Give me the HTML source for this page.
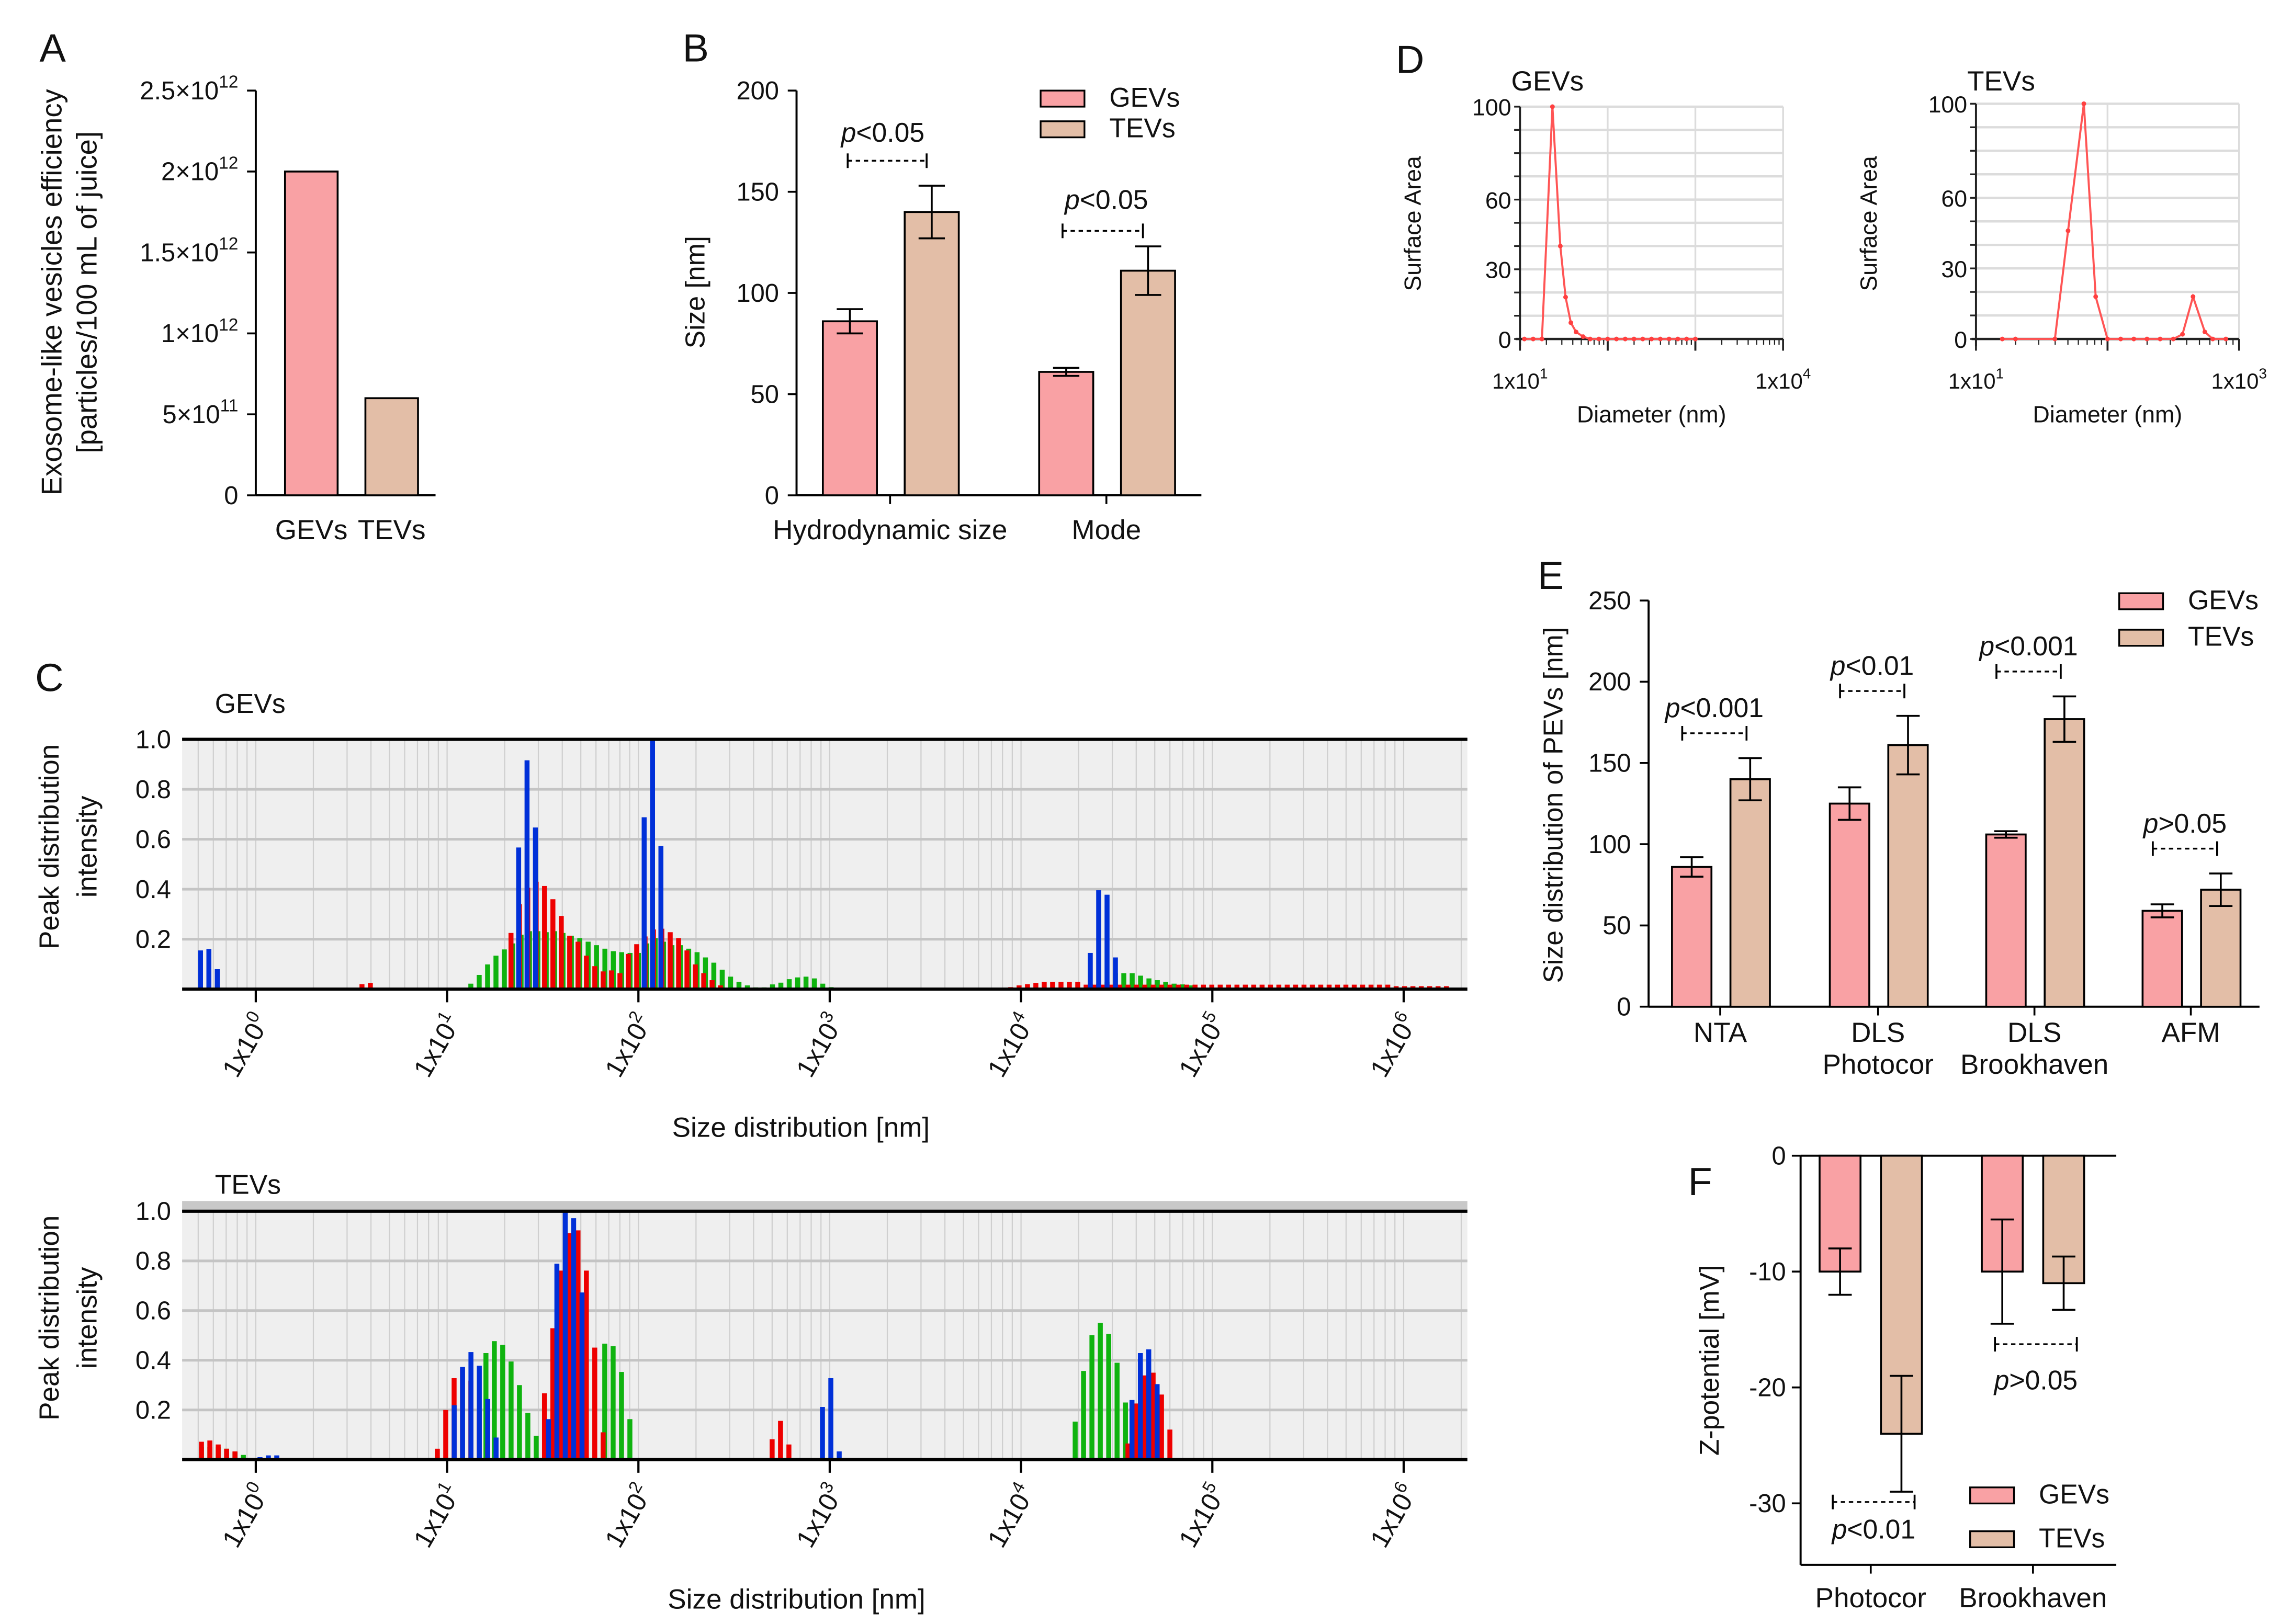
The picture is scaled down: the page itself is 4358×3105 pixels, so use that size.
<!DOCTYPE html>
<html><head><meta charset="utf-8"><style>
html,body{margin:0;padding:0;background:#fff}
svg{display:block}
text{font-family:"Liberation Sans",sans-serif;fill:#111}
</style></head><body>
<svg id="fig" xmlns="http://www.w3.org/2000/svg" width="4358" height="3105" viewBox="0 0 1560 1111.5"></svg>
<script>
// ---------- DATA ----------
const aCategories=["GEVs","TEVs"];
const aValues=[2e12,6e11];
const aTicks=[0,5e11,1e12,1.5e12,2e12,2.5e12];
const aTickLabels=["0","5×10","1×10","1.5×10","2×10","2.5×10"];
const aTickExp=["","11","12","12","12","12"];

const bGroups=["Hydrodynamic size","Mode"];
const bGev=[86,61];const bGevErr=[6,2];
const bTev=[140,111];const bTevErr=[13,12];
const bTicks=[0,50,100,150,200];

const eGroups=[["NTA"],["DLS","Photocor"],["DLS","Brookhaven"],["AFM"]];
const eGev=[86,125,106,59];const eGevErr=[6,10,2,4];
const eTev=[140,161,177,72];const eTevErr=[13,18,14,10];
const eTicks=[0,50,100,150,200,250];
const eP=["<0.001","<0.01","<0.001",">0.05"];

const fGroups=["Photocor","Brookhaven"];
const fGev=[-10,-10];const fGevErr=[2,4.5];
const fTev=[-24,-11];const fTevErr=[5,2.3];
const fTicks=[0,-10,-20,-30];

const dGevLog=[1.05,1.15,1.25,1.37,1.46,1.52,1.58,1.64,1.72,1.8,1.9,2.0,2.1,2.2,2.3,2.4,2.5,2.6,2.7,2.8,2.9,3.0];
const dGevVal=[0,0,0,100,40,18,7,3,1,0,0,0,0,0,0,0,0,0,0,0,0,0];
const dTevLog=[1.2,1.3,1.6,1.7,1.82,1.91,2.0,2.1,2.2,2.3,2.4,2.5,2.57,2.65,2.74,2.8,2.9];
const dTevVal=[0,0,0,46,100,18,0,0,0,0,0,0,2,18,3,0,0];
const dTicks=[0,30,60,100];

const cStep=0.0438;
const cGevGreen=[
 {start:-0.289,values:[0.03,0.03,0.02,0.005]},
 {start:1.124,values:[0.022,0.057,0.099,0.134,0.159,0.183,0.218,0.232,0.232,0.228,0.232,0.225,0.214,0.204,0.19,0.176,0.162,0.152,0.148,0.145,0.145,0.183,0.204,0.19,0.176,0.176,0.162,0.148,0.127,0.106,0.078,0.05,0.029,0.015,0.007,0.007,0.019,0.026,0.04,0.047,0.05,0.043,0.022,0.008]},
 {start:4.362,values:[0.022,0.022,0.03,0.064,0.064,0.064,0.054,0.043,0.036,0.029,0.022,0.019,0.015]}];
const cGevRed=[
 {start:0.555,values:[0.02,0.025]},
 {start:1.334,values:[0.225,0.34,0.406,0.43,0.413,0.36,0.293,0.214,0.19,0.134,0.092,0.071,0.075,0.064,0.141,0.18,0.211,0.239,0.242,0.228,0.204,0.155,0.099,0.064,0.036,0.015]},
 {start:3.946,values:[0.008,0.015,0.02,0.025,0.029,0.029,0.029,0.029,0.029,0.018,0.018,0.018,0.018,0.018,0.018,0.018,0.018,0.018,0.018,0.018,0.018,0.018,0.018,0.018,0.018,0.018,0.018,0.018,0.018,0.018,0.018,0.018,0.018,0.018,0.018,0.018,0.018,0.018,0.018,0.018,0.018,0.018,0.018,0.018,0.018,0.018,0.012,0.012,0.012,0.012,0.012,0.012,0.012]}];
const cGevBlue=[
 {start:-0.289,values:[0.155,0.161,0.08]},
 {start:1.374,values:[0.567,0.916,0.647]},
 {start:2.030,values:[0.688,1.0,0.573]},
 {start:4.362,values:[0.145,0.396,0.378,0.127]}];
const cTevGreen=[
 {start:-0.284,values:[0.05,0.05,0.05,0.044,0.03,0.019]},
 {start:1.203,values:[0.429,0.477,0.462,0.395,0.3,0.188,0.096]},
 {start:1.824,values:[0.467,0.457,0.353,0.163]},
 {start:4.283,values:[0.153,0.357,0.501,0.551,0.506,0.39,0.23]}];
const cTevRed=[
 {start:-0.284,values:[0.072,0.077,0.061,0.044,0.033]},
 {start:0.949,values:[0.044,0.2,0.328,0.367,0.318,0.195,0.066]},
 {start:1.509,values:[0.267,0.529,0.761,0.912,0.923,0.761,0.451,0.11]},
 {start:2.699,values:[0.082,0.156,0.061]},
 {start:4.559,values:[0.065,0.226,0.339,0.35,0.262,0.121]}];
const cTevBlue=[
 {start:0.022,values:[0.01,0.017,0.017,0.005]},
 {start:1.037,values:[0.219,0.373,0.433,0.378,0.244,0.089]},
 {start:1.530,values:[0.163,0.789,1.0,0.972,0.673]},
 {start:2.962,values:[0.212,0.328,0.033]},
 {start:4.580,values:[0.24,0.429,0.444,0.304]}];
const cDecades=[0,1,2,3,4,5,6];
const cYTicks=[0.2,0.4,0.6,0.8,1.0];

// ---------- HELPERS ----------
const NS="http://www.w3.org/2000/svg";
const svg=document.getElementById('fig');
function mk(tag,attrs,parent){const e=document.createElementNS(NS,tag);for(const k in attrs)e.setAttribute(k,attrs[k]);(parent||svg).appendChild(e);return e;}
function txt(x,y,s,size,anchor,parent,extra){const t=mk('text',Object.assign({x:x,y:y,'font-size':size,'text-anchor':anchor||'start'},extra||{}),parent);t.textContent=s;return t;}
const GEVC="#f9a1a4",TEVC="#e3bea7";

// ---------- PANEL LETTERS ----------
[["A",27,42],["B",467,42],["C",24,473],["D",955,50],["E",1052,403],["F",1155,818]].forEach(p=>{
 const t=txt(p[1],p[2],p[0],27,'start');
 
 
});

// ---------- PANEL A ----------
(function(){
 const g=mk('g',{});
 
 
 const x0=175,y0=339,yTop=62,max=2.5e12;
 const y=v=>y0-(v/max)*(y0-yTop);
 mk('line',{x1:x0,y1:yTop,x2:x0,y2:y0,stroke:'#000','stroke-width':1.4},g);
 mk('line',{x1:x0,y1:y0,x2:298,y2:y0,stroke:'#000','stroke-width':1.4},g);
 aTicks.forEach((t,i)=>{
  mk('line',{x1:x0-6,y1:y(t),x2:x0,y2:y(t),stroke:'#000','stroke-width':1.3},g);
  const tt=txt(x0-12,y(t)+6,aTickLabels[i],17.5,'end',g);
  if(aTickExp[i]){const ts=mk('tspan',{'font-size':12,dy:-8},tt);ts.textContent=aTickExp[i];}
  
  
 });
 aCategories.forEach((c,i)=>{
  const bx=195+i*55;
  const r=mk('rect',{x:bx,y:y(aValues[i]),width:36,height:y0-y(aValues[i]),fill:i?TEVC:GEVC,stroke:'#000','stroke-width':1.3},g);
  
  
  const l=txt(bx+18,369,c,19,'middle',g);
  
  
 });
 const yt=mk('text',{transform:'translate(42,200) rotate(-90)','font-size':19.5,'text-anchor':'middle'},g);
 yt.textContent='Exosome-like vesicles efficiency';
 
 
 const yt2=mk('text',{transform:'translate(66,200) rotate(-90)','font-size':19.5,'text-anchor':'middle'},g);
 yt2.textContent='[particles/100 mL of juice]';
 
 
})();

// ---------- GROUPED BAR helper ----------
function bracket(g,x1,x2,yy,label,lx,ly,name){
 const p=mk('g',{},g);
 
 
 mk('line',{x1:x1,y1:yy,x2:x2,y2:yy,stroke:'#000','stroke-width':1.2,'stroke-dasharray':'3,2.5'},p);
 mk('line',{x1:x1,y1:yy-5,x2:x1,y2:yy+5,stroke:'#000','stroke-width':1.3},p);
 mk('line',{x1:x2,y1:yy-5,x2:x2,y2:yy+5,stroke:'#000','stroke-width':1.3},p);
 const t=txt(lx,ly,'',18.5,'middle',p);
 const a=mk('tspan',{'font-style':'italic'},t);a.textContent='p';
 const b=mk('tspan',{},t);b.textContent=label;
}
function errBar(g,cx,vy,ey1,ey2,w){
 mk('line',{x1:cx,y1:ey1,x2:cx,y2:ey2,stroke:'#000','stroke-width':1.3},g);
 mk('line',{x1:cx-w,y1:ey1,x2:cx+w,y2:ey1,stroke:'#000','stroke-width':1.3},g);
 mk('line',{x1:cx-w,y1:ey2,x2:cx+w,y2:ey2,stroke:'#000','stroke-width':1.3},g);
}
function legend(g,x,y1,y2,name){
 const lg=mk('g',{},g);
 
 
 [[y1,GEVC,'GEVs'],[y2,TEVC,'TEVs']].forEach(e=>{
  mk('rect',{x:x,y:e[0]-5,width:30,height:11,fill:e[1],stroke:'#000','stroke-width':1.2},lg);
  txt(x+47,e[0]+6,e[2],18.5,'start',lg);
 });
}

// ---------- PANEL B ----------
(function(){
 const g=mk('g',{});
 
 
 const x0=545,y0=339,yTop=62,max=200;
 const y=v=>y0-(v/max)*(y0-yTop);
 mk('line',{x1:x0,y1:yTop,x2:x0,y2:y0,stroke:'#000','stroke-width':1.4},g);
 mk('line',{x1:x0,y1:y0,x2:822,y2:y0,stroke:'#000','stroke-width':1.4},g);
 bTicks.forEach(t=>{
  mk('line',{x1:x0-6,y1:y(t),x2:x0,y2:y(t),stroke:'#000','stroke-width':1.3},g);
  const l=txt(x0-12,y(t)+6,String(t),17.5,'end',g);
  
  
 });
 const gx=[563,711];
 bGroups.forEach((grp,i)=>{
  const xs=[gx[i],gx[i]+56];
  [[bGev,bGevErr,GEVC,'gev'],[bTev,bTevErr,TEVC,'tev']].forEach((s,j)=>{
   const v=s[0][i],e=s[1][i];
   const r=mk('rect',{x:xs[j],y:y(v),width:37,height:y0-y(v),fill:s[2],stroke:'#000','stroke-width':1.3},g);
   
   
   errBar(g,xs[j]+18.5,y(v),y(v+e),y(v-e),9);
  });
  const cx=gx[i]+46;
  mk('line',{x1:cx,y1:y0,x2:cx,y2:y0+6,stroke:'#000','stroke-width':1.3},g);
  const l=txt(cx,369,grp,19,'middle',g);
  
  
 });
 const yt=mk('text',{transform:'translate(482,200) rotate(-90)','font-size':18.5,'text-anchor':'middle'},g);
 yt.textContent='Size [nm]';
 
 
 legend(g,712,67,88,'b-legend');
 bracket(g,580,634,110,'<0.05',604,97,'b-significance-hydro');
 bracket(g,727,782,158,'<0.05',757,143,'b-significance-mode');
})();

// ---------- PANEL D ----------
function dPanel(opts){
 const g=mk('g',{});
 
 
 const y=v=>opts.y0-v*(opts.y0-opts.yTop)/100;
 const x=l=>opts.x0+(l-opts.l0)*opts.dec;
 for(let v=0;v<=100;v+=10){mk('line',{x1:opts.x0,y1:y(v),x2:opts.x1,y2:y(v),stroke:'#dcdcdc','stroke-width':1.6},g);}
 for(let l=opts.l0;l<=opts.l1;l++){mk('line',{x1:x(l),y1:opts.yTop,x2:x(l),y2:opts.y0,stroke:'#dcdcdc','stroke-width':1.2},g);}
 mk('line',{x1:opts.x1,y1:opts.yTop,x2:opts.x1,y2:opts.y0,stroke:'#dcdcdc','stroke-width':1.2},g);
 mk('line',{x1:opts.x0,y1:opts.yTop,x2:opts.x0,y2:opts.y0+5,stroke:'#222','stroke-width':1.4},g);
 mk('line',{x1:opts.x0-3,y1:opts.y0,x2:opts.x1,y2:opts.y0,stroke:'#222','stroke-width':1.6},g);
 for(let v=0;v<=100;v+=10){mk('line',{x1:opts.x0-4,y1:y(v),x2:opts.x0,y2:y(v),stroke:'#222','stroke-width':1.2},g);}
 for(let d=opts.l0;d<opts.l1;d++){for(let k=1;k<=10;k++){const xx=x(d+Math.log10(k));const big=(k===1||k===10);mk('line',{x1:xx,y1:opts.y0,x2:xx,y2:opts.y0+(big?8:4),stroke:'#222','stroke-width':big?1.3:0.8},g);}}
 dTicks.forEach(t=>{const l=txt(opts.x0-6,y(t)+6,String(t),16,'end',g,{fill:'#333'});
  
  });
 const pts=opts.logs.map((l,i)=>x(l)+','+y(opts.vals[i])).join(' ');
 const pl=mk('polyline',{points:pts,fill:'none',stroke:'#ff5555','stroke-width':1.4},g);
 
 
 opts.logs.forEach((l,i)=>{mk('circle',{cx:x(l),cy:y(opts.vals[i]),r:1.6,fill:'#ff4040'},g);});
 const t=txt(opts.x0-6,62,opts.title,19,'start',g);
 
 
 const yt=mk('text',{transform:'translate('+(opts.x0-68)+',153) rotate(-90)','font-size':16,'text-anchor':'middle',fill:'#444'},g);
 yt.textContent='Surface Area';
 
 
 [[opts.x0,opts.l0],[opts.x1,opts.l1]].forEach(p=>{
  const tt=txt(p[0],266,'1x10',15,'middle',g,{fill:'#333'});
  const s=mk('tspan',{'font-size':10,dy:-7},tt);s.textContent=String(p[1]);
  
  
 });
 const xt=txt((opts.x0+opts.x1)/2,289,'Diameter (nm)',16,'middle',g,{fill:'#333'});
 
 
}
dPanel({name:'d-gevs-chart',x0:1040,x1:1220,l0:1,l1:4,dec:60,y0:232,yTop:73,logs:dGevLog,vals:dGevVal,title:'GEVs'});
dPanel({name:'d-tevs-chart',x0:1352,x1:1532,l0:1,l1:3,dec:90,y0:232,yTop:71,logs:dTevLog,vals:dTevVal,title:'TEVs'});

// ---------- PANEL E ----------
(function(){
 const g=mk('g',{});
 
 
 const x0=1128,y0=689,yTop=411,max=250;
 const y=v=>y0-(v/max)*(y0-yTop);
 mk('line',{x1:x0,y1:yTop,x2:x0,y2:y0,stroke:'#000','stroke-width':1.4},g);
 mk('line',{x1:x0,y1:y0,x2:1546,y2:y0,stroke:'#000','stroke-width':1.4},g);
 eTicks.forEach(t=>{
  mk('line',{x1:x0-6,y1:y(t),x2:x0,y2:y(t),stroke:'#000','stroke-width':1.3},g);
  const l=txt(x0-12,y(t)+6,String(t),17.5,'end',g);
  
  
 });
 const gx=[1144,1252,1359,1466];
 eGroups.forEach((grp,i)=>{
  const xs=[gx[i],gx[i]+40];
  [[eGev,eGevErr,GEVC,'gev'],[eTev,eTevErr,TEVC,'tev']].forEach((s,j)=>{
   const v=s[0][i],e=s[1][i];
   const r=mk('rect',{x:xs[j],y:y(v),width:27,height:y0-y(v),fill:s[2],stroke:'#000','stroke-width':1.3},g);
   
   
   errBar(g,xs[j]+13.5,y(v),y(v+e),y(v-e),8);
  });
  const cx=gx[i]+33;
  mk('line',{x1:cx,y1:y0,x2:cx,y2:y0+6,stroke:'#000','stroke-width':1.3},g);
  grp.forEach((w,k)=>{const l=txt(cx,713+k*22,w,19,'middle',g);
   
   });
  const top=Math.max(eGev[i]+eGevErr[i],eTev[i]+eTevErr[i]);
  const by=y(top)-17;
  bracket(g,gx[i]+7,gx[i]+51,by,eP[i],gx[i]+29,by-11,'e-significance-'+i);
 });
 const yt=mk('text',{transform:'translate(1069,551) rotate(-90)','font-size':18.5,'text-anchor':'middle'},g);
 yt.textContent='Size distribution of PEVs [nm]';
 
 
 legend(g,1450,411,436,'e-legend');
})();

// ---------- PANEL F ----------
(function(){
 const g=mk('g',{});
 
 
 const x0=1232,y0=791;
 const y=v=>y0-v*7.93;
 mk('line',{x1:x0,y1:y0,x2:x0,y2:1071,stroke:'#000','stroke-width':1.4},g);
 mk('line',{x1:x0,y1:y0,x2:1448,y2:y0,stroke:'#000','stroke-width':1.4},g);
 mk('line',{x1:x0,y1:1071,x2:1448,y2:1071,stroke:'#000','stroke-width':1.4},g);
 fTicks.forEach(t=>{
  mk('line',{x1:x0-6,y1:y(t),x2:x0,y2:y(t),stroke:'#000','stroke-width':1.3},g);
  const l=txt(x0-10,y(t)+6,String(t),17.5,'end',g);
  
  
 });
 const gx=[1245,1356];
 fGroups.forEach((grp,i)=>{
  const xs=[gx[i],gx[i]+42];
  [[fGev,fGevErr,GEVC,'gev'],[fTev,fTevErr,TEVC,'tev']].forEach((s,j)=>{
   const v=s[0][i],e=s[1][i];
   const r=mk('rect',{x:xs[j],y:y0,width:28,height:y(v)-y0,fill:s[2],stroke:'#000','stroke-width':1.3},g);
   
   
   errBar(g,xs[j]+14,y(v),y(v+e),y(v-e),8);
  });
  const cx=gx[i]+35;
  mk('line',{x1:cx,y1:1071,x2:cx,y2:1077,stroke:'#000','stroke-width':1.3},g);
  const l=txt(cx,1100,grp,19,'middle',g);
  
  
 });
 const yt=mk('text',{transform:'translate(1176,931) rotate(-90)','font-size':18.5,'text-anchor':'middle'},g);
 yt.textContent='Z-potential [mV]';
 
 
 legend(g,1348,1023,1053,'f-legend');
 bracket(g,1365,1421,920,'>0.05',1393,951,'f-significance-brookhaven');
 bracket(g,1254,1310,1028,'<0.01',1282,1053,'f-significance-photocor');
})();

// ---------- PANEL C ----------
function cPanel(o){
 const g=mk('g',{});
 
 
 const xL=124.6,xR=1004;
 const x=l=>175+130.9*l;
 const y=v=>o.y0-v*(o.y0-o.yTop);
 if(o.band){mk('rect',{x:xL,y:o.yTop-7,width:xR-xL,height:7,fill:'#c8c8c8'},g);}
 const bg=mk('rect',{x:xL,y:o.yTop,width:xR-xL,height:o.y0-o.yTop,fill:'#efefef'},g);
 
 
 for(let d=-1;d<=6;d++){for(let k=1;k<=9;k++){const xx=x(d+Math.log10(k));if(xx>xL&&xx<xR)mk('line',{x1:xx,y1:o.yTop,x2:xx,y2:o.y0,stroke:'#cfcfcf','stroke-width':0.8},g);}}
 cYTicks.forEach(t=>{
  mk('line',{x1:xL,y1:y(t),x2:xR,y2:y(t),stroke:'#c4c4c4','stroke-width':1.8},g);
  const l=txt(117,y(t)+6,t.toFixed(1),17.5,'end',g);
  
  
 });
 const bw=3.4;
 [[o.green,'#0fb30f','green'],[o.red,'#ee0000','red'],[o.blue,'#0030d8','blue']].forEach(s=>{
  s[0].forEach(cl=>{cl.values.forEach((v,i)=>{
   const cx=x(cl.start+i*cStep);
   const r=mk('rect',{x:cx-bw/2,y:y(v),width:bw,height:o.y0-y(v),fill:s[1]},g);
   
   
  });});
 });
 mk('line',{x1:xL,y1:o.yTop,x2:xR,y2:o.yTop,stroke:'#000','stroke-width':2.2},g);
 mk('line',{x1:xL,y1:o.y0,x2:xR,y2:o.y0,stroke:'#000','stroke-width':2.2},g);
 cDecades.forEach(d=>{
  mk('line',{x1:x(d),y1:o.y0,x2:x(d),y2:o.y0+9,stroke:'#000','stroke-width':1.5},g);
  const t=mk('text',{transform:'translate('+(x(d)+10)+','+(o.y0+22)+') rotate(-60)','font-size':18,'text-anchor':'end'},g);
  t.textContent='1x10';
  const s=mk('tspan',{'font-size':12,dy:-8},t);s.textContent=String(d);
  
  
 });
 const tt=txt(147,o.titleY,o.title,18.5,'start',g);
 
 
 const my=(o.y0+o.yTop)/2-12;
 const y1=mk('text',{transform:'translate(40,'+my+') rotate(-90)','font-size':19,'text-anchor':'middle'},g);
 y1.textContent='Peak distribution';
 
 
 const y2=mk('text',{transform:'translate(66,'+my+') rotate(-90)','font-size':19,'text-anchor':'middle'},g);
 y2.textContent='intensity';
 
 
 const xt=txt(o.xtX,o.xtY,'Size distribution [nm]',19,'middle',g);
 
 
}
cPanel({name:'c-gevs-chart',y0:677,yTop:506,green:cGevGreen,red:cGevRed,blue:cGevBlue,title:'GEVs',titleY:488,xtX:548,xtY:778,band:false});
cPanel({name:'c-tevs-chart',y0:999,yTop:829,green:cTevGreen,red:cTevRed,blue:cTevBlue,title:'TEVs',titleY:817,xtX:545,xtY:1101,band:true});
</script>
</body></html>
